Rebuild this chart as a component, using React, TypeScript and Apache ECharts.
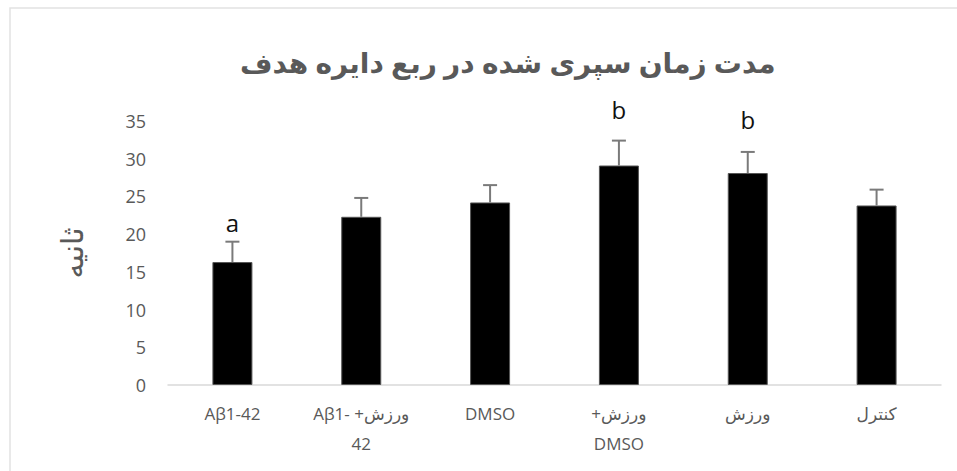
import React, { useEffect, useRef } from "react";
import * as echarts from "echarts";

const titleText = "مدت زمان سپری شده در ربع دایره هدف";
const yAxisName = "ثانیه";
const categories = [
  "Aβ1-42",
  "Aβ1- +ورزش\n42",
  "DMSO",
  "+ورزش\nDMSO",
  "ورزش",
  "کنترل",
];
const means = [16.3, 22.3, 24.2, 29.1, 28.1, 23.8];
const errors = [2.7, 2.5, 2.3, 3.3, 2.8, 2.1];
const letters = ["a", "", "", "b", "b", ""];
const letterValues = [20, null, null, 35, 33.6, null];

const FONT = "'Open Sans', 'DejaVu Sans', sans-serif";

export default function App() {
  const ref = useRef<HTMLDivElement>(null);
  useEffect(() => {
    document.body.style.margin = "0";
    const chart = echarts.init(ref.current!, null, { renderer: "svg" });
    chart.setOption({
      animation: false,
      backgroundColor: "#ffffff",
      graphic: [
        {
          type: "rect",
          shape: { x: 10, y: 8, width: 960, height: 470 },
          style: { fill: "none", stroke: "#e2e2e2", lineWidth: 1.5 },
          silent: true,
        },
      ],
      title: {
        text: titleText,
        left: 235,
        top: 43,
        textStyle: {
          fontFamily: FONT,
          fontSize: 28,
          fontWeight: "bold",
          color: "#595959",
        },
      },
      grid: { left: 168, right: 16, top: 121, bottom: 86 },
      xAxis: {
        type: "category",
        data: categories,
        axisLine: { lineStyle: { color: "#d9d9d9", width: 1.5 } },
        axisTick: { show: false },
        axisLabel: {
          interval: 0,
          margin: 13,
          fontFamily: FONT,
          fontSize: 17,
          lineHeight: 30,
          color: "#595959",
        },
      },
      yAxis: {
        type: "value",
        min: 0,
        max: 35,
        interval: 5,
        name: yAxisName,
        nameLocation: "middle",
        nameGap: 82,
        nameTextStyle: { fontFamily: FONT, fontSize: 30, color: "#595959" },
        axisLine: { show: false },
        axisTick: { show: false },
        splitLine: { show: false },
        axisLabel: {
          margin: 22,
          fontFamily: FONT,
          fontSize: 18,
          color: "#595959",
        },
      },
      series: [
        {
          type: "bar",
          data: means,
          barWidth: 40,
          itemStyle: { color: "#000000", borderColor: "#555555", borderWidth: 1 },
          z: 2,
        },
        {
          type: "custom",
          data: means.map((m, i) => [i, m, errors[i]]),
          z: 3,
          renderItem: (params: any, api: any) => {
            const i = api.value(0);
            const m = api.value(1);
            const e = api.value(2);
            const p0 = api.coord([i, m]);
            const p1 = api.coord([i, m + e]);
            const style = { stroke: "#7a7a7a", lineWidth: 2 };
            return {
              type: "group",
              children: [
                { type: "line", shape: { x1: p0[0], y1: p0[1], x2: p1[0], y2: p1[1] }, style },
                { type: "line", shape: { x1: p1[0] - 7, y1: p1[1], x2: p1[0] + 7, y2: p1[1] }, style },
              ],
            };
          },
        },
        {
          type: "custom",
          data: letterValues.map((v, i) => [i, v == null ? 0 : v]),
          z: 4,
          renderItem: (params: any, api: any) => {
            const idx = params.dataIndex;
            if (letterValues[idx] == null) return null;
            const p = api.coord([api.value(0), api.value(1)]);
            return {
              type: "text",
              x: p[0],
              y: p[1],
              style: {
                text: letters[idx],
                fontFamily: FONT,
                fontSize: 24,
                fill: "#111111",
                align: "center",
                verticalAlign: "bottom",
              },
            };
          },
        },
      ],
    });
    return () => chart.dispose();
  }, []);
  return <div ref={ref} style={{ width: 957, height: 471 }} />;
}
